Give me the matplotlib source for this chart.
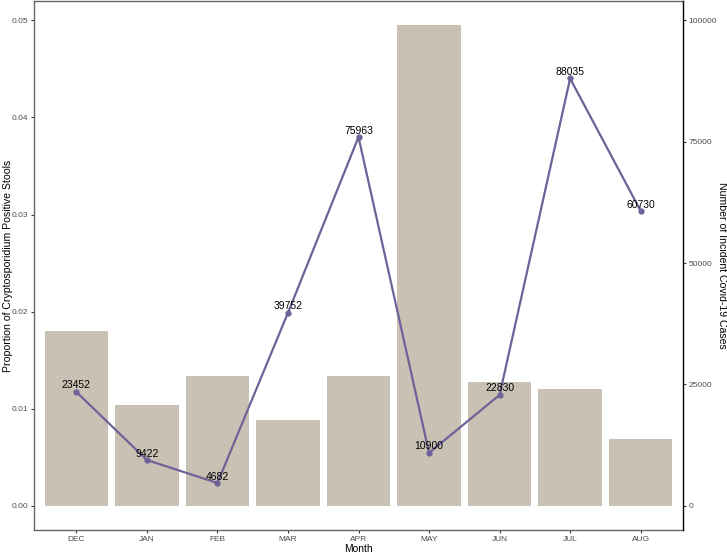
import matplotlib
matplotlib.use('Agg')
import matplotlib.pyplot as plt

plt.rcParams['font.family'] = ['Liberation Sans', 'DejaVu Sans']

# Monthly data
months = ['DEC', 'JAN', 'FEB', 'MAR', 'APR', 'MAY', 'JUN', 'JUL', 'AUG']
crypto_prop = [0.0180, 0.0104, 0.0134, 0.0088, 0.0134, 0.0495, 0.0127, 0.0120, 0.0069]
covid_cases = [23452, 9422, 4682, 39752, 75963, 10900, 22830, 88035, 60730]

# secondary axis scale: cases = proportion * 2e6
scale = 2e6

fig = plt.figure(figsize=(7.27, 5.55), dpi=100)
ax = fig.add_axes([34 / 727, 25 / 555, 649 / 727, 529 / 555])

x = list(range(len(months)))
ax.bar(x, crypto_prop, width=0.9, color='#C9C1B4', zorder=1)

line_y = [c / scale for c in covid_cases]
ax.plot(x, line_y, color='#6E6298', lw=1.6, marker='o', ms=3.5, zorder=2)
for xi, yi, c in zip(x, line_y, covid_cases):
    ax.annotate(str(c), (xi, yi), xytext=(0, 2.5), textcoords='offset points',
                ha='center', va='baseline', fontsize=7.5, color='black', zorder=3)

ax.set_xlim(-0.6, 8.6)
ax.set_ylim(-0.0025, 0.052)
ax.set_xticks(x)
ax.set_xticklabels(months)
ax.set_yticks([0, 0.01, 0.02, 0.03, 0.04, 0.05])
ax.set_yticklabels(['0.00', '0.01', '0.02', '0.03', '0.04', '0.05'])
ax.tick_params(labelsize=6, labelcolor='#4D4D4D', length=2.5, color='#333333', pad=1.5)
ax.set_xlabel('Month', fontsize=7.4, va='center')
ax.set_ylabel('Proportion of Cryptosporidium Positive Stools', fontsize=7.6, va='center')
ax.xaxis.set_label_coords(0.5, (530 - 549) / 529)
ax.yaxis.set_label_coords((8.5 - 34) / 649, 0.5)

for s in ['left', 'bottom', 'top']:
    ax.spines[s].set_color('#666666')
    ax.spines[s].set_linewidth(1.0)
ax.spines['right'].set_visible(False)

ax2 = ax.twinx()
ax2.set_ylim(-0.0025 * scale, 0.052 * scale)
ax2.set_yticks([0, 25000, 50000, 75000, 100000])
ax2.set_yticklabels(['0', '25000', '50000', '75000', '100000'])
ax2.tick_params(labelsize=6, labelcolor='#4D4D4D', length=2.5, color='#333333', pad=1.5)
ax2.set_ylabel('Number of Incident Covid-19 Cases', fontsize=7.6, rotation=270, va='center')
ax2.yaxis.set_label_coords((722 - 34) / 649, 0.5)
for s in ['left', 'bottom', 'top']:
    ax2.spines[s].set_visible(False)
ax2.spines['right'].set_color('black')
ax2.spines['right'].set_linewidth(1.0)

fig.savefig('out.png', dpi=100)
